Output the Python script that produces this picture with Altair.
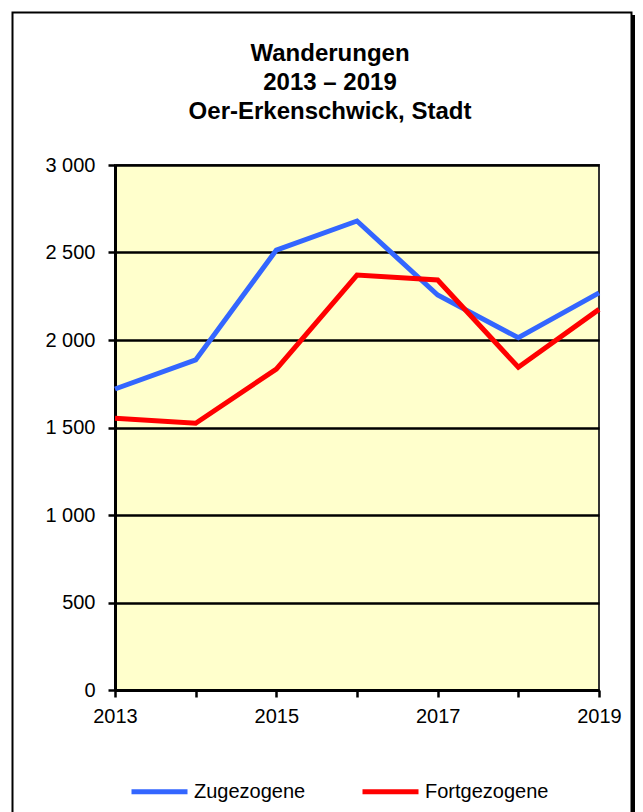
import altair as alt
import pandas as pd

years = [2013, 2014, 2015, 2016, 2017, 2018, 2019]
zugezogene = [1720, 1886, 2514, 2680, 2257, 2013, 2269]
fortgezogene = [1553, 1524, 1834, 2371, 2343, 1844, 2175]
series = ["Zugezogene", "Fortgezogene"]
colors = ["#3366FF", "#FF0000"]
y_ticks = [0, 500, 1000, 1500, 2000, 2500, 3000]
title_lines = ["Wanderungen", "2013 – 2019", "Oer-Erkenschwick, Stadt"]

df = pd.DataFrame({
    "Jahr": years * 2,
    "Wert": zugezogene + fortgezogene,
    "Reihe": [series[0]] * len(years) + [series[1]] * len(years),
})

FONT = "Liberation Sans"
one = alt.Data(values=[{"k": 1}])

frame = alt.Chart(one).mark_rect(
    fill="white", fillOpacity=0, stroke="black", strokeWidth=2
).encode(
    x=alt.value(-102.5), x2=alt.value(516.5),
    y=alt.value(-152.5), y2=alt.value(700),
)

shadow = alt.Chart(one).mark_rect(color="black").encode(
    x=alt.value(517), x2=alt.value(520),
    y=alt.value(-150), y2=alt.value(700),
)

lines = alt.Chart(df).mark_line(strokeWidth=5).encode(
    x=alt.X(
        "Jahr:Q",
        scale=alt.Scale(domain=[2013, 2019], nice=False, zero=False),
        axis=alt.Axis(
            values=years, format="d", grid=False, title=None,
            labelExpr="datum.value % 2 == 1 ? datum.label : ''",
            labelFlush=False, tickSize=7, tickWidth=2.5, tickColor="black",
            domainColor="black", domainWidth=3, labelPadding=9,
            labelFont=FONT, labelFontSize=20, labelColor="black",
        ),
    ),
    y=alt.Y(
        "Wert:Q",
        scale=alt.Scale(domain=[0, 3000], nice=False),
        axis=alt.Axis(
            values=y_ticks, title=None, grid=True, gridColor="black",
            gridWidth=2.5, gridOpacity=1,
            labelExpr="replace(format(datum.value, ','), ',', ' ')",
            tickSize=7, tickWidth=2.5, tickColor="black",
            domainColor="black", domainWidth=3, labelPadding=13,
            labelFont=FONT, labelFontSize=20, labelColor="black",
        ),
    ),
    color=alt.Color(
        "Reihe:N",
        scale=alt.Scale(domain=series, range=colors),
        sort=series,
        legend=alt.Legend(
            title=None, orient="none", legendX=14, legendY=596,
            direction="horizontal", symbolType="stroke",
            symbolSize=3136, symbolStrokeWidth=5, columnPadding=46,
            labelOffset=4, labelFont=FONT, labelFontSize=20,
            labelColor="black", padding=0,
        ),
    ),
)

chart = alt.layer(shadow, frame, lines).properties(
    width=484,
    height=525,
    title=alt.TitleParams(
        text=title_lines, font=FONT, fontSize=24, fontWeight="bold",
        anchor="middle", frame="group", dx=-27, offset=-112,
        lineHeight=29, color="black",
    ),
    autosize=alt.AutoSizeParams(type="none"),
    padding={"left": 107, "top": 157, "right": 36, "bottom": 122},
).configure(background="white").configure_view(
    fill="#FFFFCC", stroke="#333333", strokeWidth=2
)

chart.save("out.html", embed_options={"renderer": "svg", "actions": False})
